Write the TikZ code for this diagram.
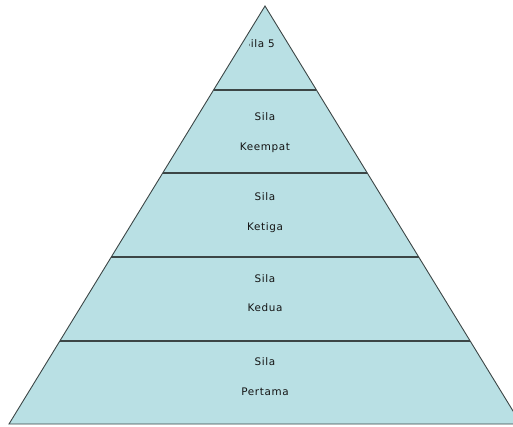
\documentclass[tikz,border=0pt]{standalone}
\usepackage{fontspec}
\newfontfamily\lblfont[LetterSpace=6]{DejaVu Sans}
\usetikzlibrary{calc}
\definecolor{pyrfill}{HTML}{B9E0E4}
\definecolor{pyrline}{HTML}{3C4646}
\tikzset{
  lbl/.style={font=\lblfont\fontsize{10.4}{12}\selectfont, text=black!92, inner sep=0pt, anchor=base},
  edge/.style={draw=pyrline, line width=0.9pt},
  layer/.style={draw=pyrline, line width=1.3pt}
}

\begin{document}
\begin{tikzpicture}[x=1pt,y=-1pt]
\useasboundingbox (0,0) rectangle (513,426);
\clip (0,0) rectangle (513,426);
% pyramid
\coordinate (top) at (265,6);
\coordinate (bl) at (9,424);
\coordinate (br) at (521,424);
\fill [pyrfill] (top) -- (bl) -- (br) -- cycle;
% layers
\foreach \y in {90,173,257,341}
  \draw [layer] ($(top)!{(\y-6)/418}!(bl)$) -- ($(top)!{(\y-6)/418}!(br)$);
\draw [edge] (top) -- (bl) -- (br) -- cycle;
% labels
\begin{scope}
\clip (249.5,30) rectangle (300,60);
\node [lbl, anchor=base east] (sila5) at (275,47) {Sila 5};
\end{scope}
\node [lbl] (sila4) at (265,120) {Sila};
\node [lbl] (keempat) at (265,150) {Keempat};
\node [lbl] (sila3) at (265,200) {Sila};
\node [lbl] (ketiga) at (265,230) {Ketiga};
\node [lbl] (sila2) at (265,282) {Sila};
\node [lbl] (kedua) at (265,311) {Kedua};
\node [lbl] (sila1) at (265,365) {Sila};
\node [lbl] (pertama) at (265,395) {Pertama};
\end{tikzpicture}
\end{document}
